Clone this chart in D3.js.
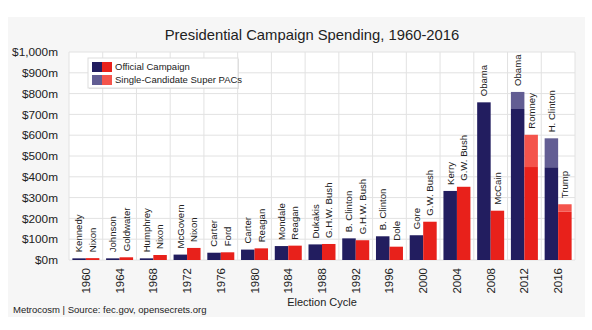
<!DOCTYPE html>
<html>
<head>
<meta charset="utf-8">
<script src="https://cdn.jsdelivr.net/npm/d3@7"></script>
<style>
  body { margin: 0; background: #fff; }
  text { font-family: "Liberation Sans", Arial, sans-serif; }
</style>
</head>
<body>
<div id="chart"></div>
<script>
// election years and candidates (Democrat first, Republican second)
const years = ["1960", "1964", "1968", "1972", "1976", "1980", "1984", "1988", "1992", "1996", "2000", "2004", "2008", "2012", "2016"];
const demNames = ["Kennedy", "Johnson", "Humphrey", "McGovern", "Carter", "Carter", "Mondale", "Dukakis", "B. Clinton", "B. Clinton", "Gore", "Kerry", "Obama", "Obama", "H. Clinton"];
const repNames = ["Nixon", "Goldwater", "Nixon", "Nixon", "Ford", "Reagan", "Reagan", "G.H.W. Bush", "G.H.W. Bush", "Dole", "G.W. Bush", "G.W. Bush", "McCain", "Romney", "Trump"];
// spending in $ millions
const demOfficial = [8, 8, 8, 26, 35, 50, 67, 75, 104, 114, 119, 332, 758, 726, 446];
const repOfficial = [9, 13, 24, 58, 37, 56, 69, 77, 95, 64, 184, 352, 237, 447, 232];
const demSuperPac = [0, 0, 0, 0, 0, 0, 0, 0, 0, 0, 0, 0, 0, 82, 139];
const repSuperPac = [0, 0, 0, 0, 0, 0, 0, 0, 0, 0, 0, 0, 0, 155, 36];
const yTicks = [0, 100, 200, 300, 400, 500, 600, 700, 800, 900, 1000];

const W = 592, H = 330;
const margin = { top: 52, right: 17, bottom: 70, left: 69 };
const width = W - margin.left - margin.right,
      height = H - margin.top - margin.bottom;

const colors = {
  demOfficial: "#221d5f", repOfficial: "#e8211b",
  demPac: "#625d93", repPac: "#f4544c"
};

const svg = d3.select("#chart").append("svg")
  .attr("width", W).attr("height", H);

// light panel behind the chart
svg.append("rect")
  .attr("x", 8).attr("y", 17).attr("width", 577).attr("height", 300)
  .attr("fill", "#f6f6f6");

svg.append("text")
  .attr("x", 312).attr("y", 40)
  .attr("text-anchor", "middle")
  .attr("font-size", 14.8)
  .attr("fill", "#222")
  .text("Presidential Campaign Spending, 1960-2016");

const g = svg.append("g").attr("transform", `translate(${margin.left},${margin.top})`);

const x = d3.scaleBand().domain(years).range([0, width]).paddingInner(0).paddingOuter(0);
const y = d3.scaleLinear().domain([0, 1000]).range([height, 0]);

// grid
g.append("rect").attr("width", width).attr("height", height).attr("fill", "#fff");
g.selectAll(".hgrid").data(yTicks).join("line")
  .attr("x1", 0).attr("x2", width)
  .attr("y1", d => y(d)).attr("y2", d => y(d))
  .attr("stroke", "#e2e2e2").attr("stroke-width", 1);
g.selectAll(".vgrid").data(years.concat(["end"])).join("line")
  .attr("x1", (d, i) => i * x.bandwidth()).attr("x2", (d, i) => i * x.bandwidth())
  .attr("y1", 0).attr("y2", height)
  .attr("stroke", "#e2e2e2").attr("stroke-width", 1);

// y axis labels
g.append("g")
  .call(d3.axisLeft(y).tickValues(yTicks).tickSize(0).tickPadding(11)
    .tickFormat(d => "$" + d3.format(",")(d) + "m"))
  .call(a => a.select(".domain").remove())
  .selectAll("text")
  .attr("font-size", 11.8).attr("fill", "#222")
  .style("font-family", "Liberation Sans, Arial, sans-serif");

// x axis labels
g.append("g")
  .attr("transform", `translate(0,${height})`)
  .call(d3.axisBottom(x).tickSize(0).tickPadding(0))
  .call(a => a.select(".domain").remove())
  .selectAll("text")
  .attr("transform", "rotate(-90)")
  .attr("text-anchor", "end")
  .attr("x", -8).attr("y", 0).attr("dy", "0.35em")
  .attr("font-size", 11.5).attr("fill", "#222")
  .style("font-family", "Liberation Sans, Arial, sans-serif");

const sub = d3.scaleBand().domain(["dem", "rep"]).range([0, x.bandwidth()]).paddingOuter(0.25).paddingInner(0);

const rows = years.map((yr, i) => ({
  year: yr,
  dem: { name: demNames[i], official: demOfficial[i], pac: demSuperPac[i] },
  rep: { name: repNames[i], official: repOfficial[i], pac: repSuperPac[i] }
}));

const bars = [];
rows.forEach(r => {
  ["dem", "rep"].forEach(side => bars.push({ year: r.year, side, ...r[side] }));
});

const bx = d => x(d.year) + sub(d.side);

// official campaign bars
g.selectAll(".official").data(bars).join("rect")
  .attr("x", bx).attr("width", sub.bandwidth())
  .attr("y", d => y(d.official))
  .attr("height", d => y(0) - y(d.official))
  .attr("fill", d => d.side === "dem" ? colors.demOfficial : colors.repOfficial);

// super PAC bars stacked on top
g.selectAll(".pac").data(bars.filter(d => d.pac > 0)).join("rect")
  .attr("x", bx).attr("width", sub.bandwidth())
  .attr("y", d => y(d.official + d.pac))
  .attr("height", d => y(d.official) - y(d.official + d.pac))
  .attr("fill", d => d.side === "dem" ? colors.demPac : colors.repPac);

// candidate names above bars
g.selectAll(".cand").data(bars).join("text")
  .attr("transform", d => `translate(${bx(d) + sub.bandwidth() / 2},${y(d.official + d.pac) - 6}) rotate(-90)`)
  .attr("dy", "0.35em")
  .attr("font-size", 9.6).attr("fill", "#222")
  .text(d => d.name);

// legend
const leg = svg.append("g").attr("transform", "translate(88,58)");
leg.append("rect").attr("x", 1).attr("y", 1).attr("width", 150).attr("height", 30)
  .attr("fill", "#ccc").attr("opacity", 0.6);
leg.append("rect").attr("width", 150).attr("height", 30)
  .attr("fill", "#fff").attr("stroke", "#ddd");
const legItems = [
  { label: "Official Campaign", c1: colors.demOfficial, c2: colors.repOfficial },
  { label: "Single-Candidate Super PACs", c1: colors.demPac, c2: colors.repPac }
];
legItems.forEach((it, i) => {
  const yy = 4 + i * 13;
  leg.append("rect").attr("x", 4).attr("y", yy).attr("width", 10).attr("height", 10).attr("fill", it.c1);
  leg.append("rect").attr("x", 14).attr("y", yy).attr("width", 10).attr("height", 10).attr("fill", it.c2);
  leg.append("text").attr("x", 27).attr("y", yy + 5).attr("dy", "0.35em")
    .attr("font-size", 9.5).attr("fill", "#222").text(it.label);
});

svg.append("text")
  .attr("x", 322).attr("y", 306)
  .attr("text-anchor", "middle")
  .attr("font-size", 11).attr("fill", "#222")
  .text("Election Cycle");

svg.append("text")
  .attr("x", 13).attr("y", 313)
  .attr("font-size", 9.5).attr("fill", "#222")
  .text("Metrocosm | Source: fec.gov, opensecrets.org");
</script>
</body>
</html>
